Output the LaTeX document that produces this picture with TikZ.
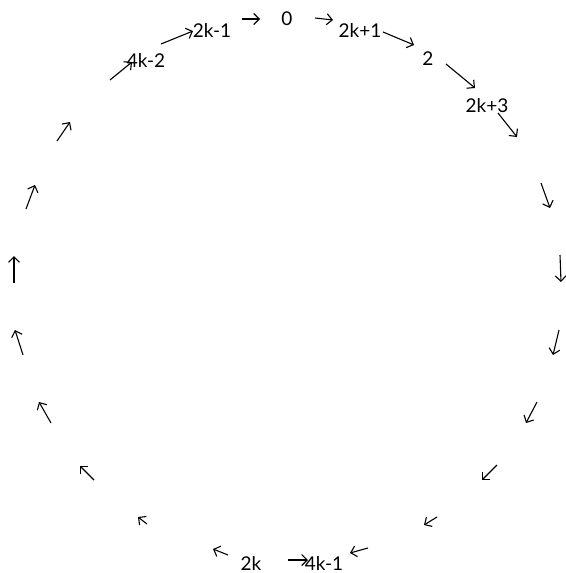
\documentclass[tikz,border=0pt]{standalone}
\usepackage{fontspec}
\setmainfont{Lato}
\usetikzlibrary{arrows.meta}
\begin{document}
\begin{tikzpicture}[x=1pt,y=-1pt,
  lbl/.style={anchor=base,inner sep=0pt,font=\fontsize{19}{22}\selectfont},
  arr/.style={line width=1.1pt,-{Straight Barb[length=5.5pt,width=11pt,line width=1.1pt]}}]
\useasboundingbox (0,0) rectangle (565,573);
\node[lbl] (n0) at (287,25) {0};
\node[lbl] (n2k1) at (360,37) {2k+1};
\node[lbl] (n2) at (428,65) {2};
\node[lbl] (n2k3) at (487,112) {2k+3};
\node[lbl] (n2km1) at (212,37) {2k-1};
\node[lbl] (n4km2) at (146,67) {4k-2};
\node[lbl] (n2k) at (251,570) {2k};
\node[lbl] (n4km1) at (324,570) {4k-1};
\foreach \ax/\ay/\bx/\by in {
  242/19/260/19, 315/18/333/20, 383/32/414/45, 446/64/475/88,
  498/113/517/137, 541/183/550/208, 560/255/561/282, 559/330/553/355,
  537/402/526/423, 497/465/482/480, 437/517/424/525, 368/548/350/553,
  288/560/308/560, 228/555/213/549, 147/524/138/517, 94/480/80/466,
  51/423/39/402, 23/355/15/330, 14/283/14/256, 26/209/35/185,
  57/141/70/122, 110/80/132/62, 161/44/193/31}
  \draw[arr] (\ax,\ay) -- (\bx,\by);
\end{tikzpicture}
\end{document}
